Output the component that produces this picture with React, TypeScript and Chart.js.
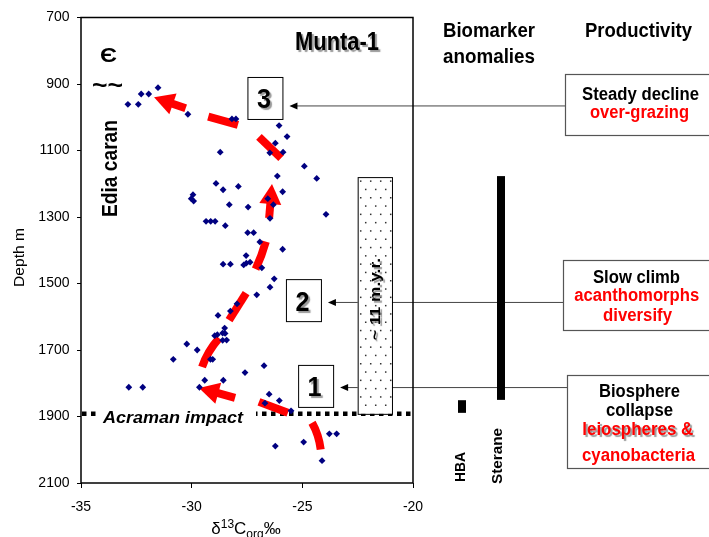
import React, { useEffect, useRef } from "react";
import { Chart, registerables } from "chart.js";

Chart.register(...registerables);

const FONT = '"Liberation Sans", Arial, Helvetica, sans-serif';
const RED = "#ff0000";
const NAVY = "#000080";

// ---- data ----
const delta13C = [
  -32.88, -32.41, -32.28, -31.94, -31.52, -30.17, -28.18, -28.0, -28.71, -26.05,
  -25.69, -26.22, -26.47, -25.87, -24.91, -26.13, -24.35, -28.9, -27.89, -28.58,
  -29.94, -30.02, -29.91, -25.89, -26.56, -26.31, -28.3, -27.45, -23.93, -26.46,
  -29.35, -29.14, -28.94, -28.48, -27.47, -27.2, -26.92, -25.89, -27.54, -28.58,
  -28.25, -27.65, -27.53, -27.36, -26.83, -26.27, -26.46, -27.06, -27.95, -28.25,
  -28.81, -28.51, -28.6, -28.49, -28.84, -28.96, -28.42, -28.6, -30.22, -29.75,
  -30.83, -29.15, -29.05, -27.59, -26.73, -29.41, -28.57, -32.84, -32.21, -29.65,
  -26.5, -26.69, -26.04, -25.51, -26.22, -24.94, -23.78, -23.45, -24.11,
];
const depthM = [
  961, 961, 930, 930, 911, 991, 1005, 1005, 1105, 1025,
  1058, 1078, 1107, 1105, 1147, 1177, 1184, 1199, 1208, 1218,
  1233, 1245, 1252, 1224, 1245, 1263, 1263, 1270, 1292, 1304,
  1313, 1313, 1313, 1326, 1347, 1347, 1375, 1397, 1416, 1442,
  1442, 1444, 1439, 1436, 1453, 1486, 1511, 1534, 1561, 1583,
  1596, 1634, 1649, 1650, 1654, 1657, 1670, 1671, 1682, 1700,
  1728, 1728, 1728, 1768, 1747, 1791, 1791, 1812, 1812, 1812,
  1833, 1860, 1852, 1883, 1989, 1977, 1952, 1952, 2033,
];
const xRange = [-35, -20];
const xStep = 5;
const depthRange = [700, 2100];
const depthStep = 200;

// annotation anchors (data coordinates: [δ13C, depth])
const impactDepth = 1892;
const stippleX = [-22.5, -20.95];
const stippleDepth = [1180, 1892];
const steraneDepth = [1177, 1850];
const hbaDepth = [1851, 1889];
const stageBoxes = [
  { label: "3", x: -26.69, d: 942, line: 966 },
  { label: "2", x: -24.95, d: 1550, line: 1557 },
  { label: "1", x: -24.4, d: 1808, line: 1813 },
];
const arrowCollapse = [
  [[-24.17, 1999], [-24.31, 1957], [-24.56, 1919]],
  [[-25.65, 1889], [-26.96, 1856]],
  [[-28.04, 1844], [-29.67, 1814]],
];
const arrowClimb = [
  [[-29.53, 1751], [-29.22, 1706], [-28.76, 1664]],
  [[-28.31, 1610], [-27.54, 1529]],
  [[-27.11, 1457], [-26.85, 1415], [-26.65, 1374]],
  [[-26.5, 1303], [-26.37, 1201]],
];
const arrowDecline = [
  [[-25.96, 1123], [-26.96, 1059]],
  [[-27.91, 1023], [-29.25, 998]],
  [[-30.27, 973], [-31.7, 940]],
];

type Ctx = CanvasRenderingContext2D;

function fitText(
  ctx: Ctx, s: string, x: number, y: number, font: string, color: string,
  opts: { width?: number; align?: CanvasTextAlign; rot?: number; shadow?: boolean; baseline?: CanvasTextBaseline } = {}
) {
  ctx.save();
  ctx.font = font;
  ctx.fillStyle = color;
  ctx.textAlign = opts.align || "center";
  ctx.textBaseline = opts.baseline || "alphabetic";
  ctx.translate(x, y);
  if (opts.rot) ctx.rotate(opts.rot);
  if (opts.width) {
    const w = ctx.measureText(s).width;
    if (w > 0) ctx.scale(opts.width / w, 1);
  }
  if (opts.shadow) {
    ctx.shadowColor = "rgba(120,120,120,0.75)";
    ctx.shadowOffsetX = 2;
    ctx.shadowOffsetY = 2;
    ctx.shadowBlur = 1;
  }
  ctx.fillText(s, 0, 0);
  ctx.restore();
}

function strokePath(ctx: Ctx, pts: number[][]) {
  ctx.beginPath();
  ctx.moveTo(pts[0][0], pts[0][1]);
  if (pts.length === 3) {
    const cx = 2 * pts[1][0] - (pts[0][0] + pts[2][0]) / 2;
    const cy = 2 * pts[1][1] - (pts[0][1] + pts[2][1]) / 2;
    ctx.quadraticCurveTo(cx, cy, pts[2][0], pts[2][1]);
  } else {
    for (let i = 1; i < pts.length; i++) ctx.lineTo(pts[i][0], pts[i][1]);
  }
  ctx.stroke();
}

function redArrow(ctx: Ctx, segs: number[][][], X: (v: number) => number, Y: (v: number) => number) {
  ctx.save();
  ctx.strokeStyle = RED;
  ctx.fillStyle = RED;
  ctx.lineWidth = 8;
  ctx.lineCap = "butt";
  segs.forEach((seg, i) => {
    const pts = seg.map(([a, b]) => [X(a), Y(b)]);
    if (i === segs.length - 1) {
      const [tx, ty] = pts[pts.length - 1];
      const [px, py] = pts[pts.length - 2];
      const dx = tx - px, dy = ty - py, L = Math.hypot(dx, dy);
      const ux = dx / L, uy = dy / L;
      const hl = 20, hw = 11;
      const bx = tx - ux * hl, by = ty - uy * hl;
      strokePath(ctx, [...pts.slice(0, -1), [bx + ux * 2, by + uy * 2]]);
      ctx.beginPath();
      ctx.moveTo(tx, ty);
      ctx.lineTo(bx - uy * hw, by + ux * hw);
      ctx.lineTo(bx + uy * hw, by - ux * hw);
      ctx.closePath();
      ctx.fill();
    } else {
      strokePath(ctx, pts);
    }
  });
  ctx.restore();
}

const annotate = {
  id: "annotate",
  beforeDatasetsDraw(chart: any) {
    const ctx: Ctx = chart.ctx;
    const ca = chart.chartArea;
    const X = (v: number) => chart.scales.x.getPixelForValue(v);
    const Y = (v: number) => chart.scales.y.getPixelForValue(v);
    ctx.save();

    // Acraman impact dotted line
    const iy = Y(impactDepth);
    ctx.strokeStyle = "#000";
    ctx.lineWidth = 4.5;
    ctx.setLineDash([4.5, 4.5]);
    ctx.beginPath();
    ctx.moveTo(ca.left + 1, iy);
    ctx.lineTo(ca.right, iy);
    ctx.stroke();
    ctx.setLineDash([]);
    ctx.fillStyle = "#fff";
    ctx.fillRect(97, iy - 12, 159, 22);
    fitText(ctx, "Acraman impact", 103, iy + 9, `italic bold 17px ${FONT}`, "#000", { align: "left", width: 140 });

    // connectors from the productivity boxes to the numbered stage boxes
    const boxRightEdges = [565, 563, 567];
    stageBoxes.forEach((b, i) => {
      const ly = Y(b.line);
      const tipX = X(b.x) + 17.5 + 7;
      ctx.strokeStyle = "#444";
      ctx.lineWidth = 1;
      ctx.beginPath();
      ctx.moveTo(boxRightEdges[i], ly);
      ctx.lineTo(tipX + 6, ly);
      ctx.stroke();
      ctx.fillStyle = "#000";
      ctx.beginPath();
      ctx.moveTo(tipX, ly);
      ctx.lineTo(tipX + 8, ly - 3.5);
      ctx.lineTo(tipX + 8, ly + 3.5);
      ctx.closePath();
      ctx.fill();
    });

    // stippled duration bar
    const sx0 = X(stippleX[0]), sx1 = X(stippleX[1]);
    const sy0 = Y(stippleDepth[0]), sy1 = Y(stippleDepth[1]);
    ctx.fillStyle = "#fff";
    ctx.fillRect(sx0, sy0, sx1 - sx0, sy1 - sy0);
    ctx.fillStyle = "#333";
    let row = 0;
    for (let yy = sy0 + 4; yy < sy1 - 2; yy += 8.3, row++) {
      for (let xx = sx0 + 3 + (row % 2 ? 5 : 0); xx < sx1 - 1; xx += 10) {
        ctx.fillRect(xx - 0.7, yy - 0.7, 1.5, 1.5);
      }
    }
    ctx.strokeStyle = "#000";
    ctx.lineWidth = 1;
    ctx.strokeRect(sx0 + 0.5, sy0 + 0.5, sx1 - sx0, sy1 - sy0);
    fitText(ctx, "~ 11 m.y.r.", (sx0 + sx1) / 2 + 5, 299, `bold 15px ${FONT}`, "#000", {
      rot: -Math.PI / 2, width: 82, shadow: true,
    });

    // numbered stage boxes
    stageBoxes.forEach((b) => {
      const cx = X(b.x), cy = Y(b.d);
      ctx.fillStyle = "#fff";
      ctx.fillRect(cx - 17.5, cy - 21, 35, 42);
      ctx.strokeStyle = "#000";
      ctx.lineWidth = 1;
      ctx.strokeRect(cx - 17.5 + 0.5, cy - 21 + 0.5, 35, 42);
      fitText(ctx, b.label, cx - 1, cy + 10.5, `bold 27px ${FONT}`, "#000", { shadow: true, width: 14 });
    });

    // red trend arrows
    redArrow(ctx, arrowCollapse, X, Y);
    redArrow(ctx, arrowClimb, X, Y);
    redArrow(ctx, arrowDecline, X, Y);

    // labels inside the plot
    fitText(ctx, "Munta-1", 337, 50, `bold 25px ${FONT}`, "#000", { width: 84, shadow: true });
    fitText(ctx, "Є", 108.5, 62, `bold 21px ${FONT}`, "#000", { width: 17 });
    fitText(ctx, "~~", 107.5, 86.5, `bold 24px ${FONT}`, "#000", { width: 31, baseline: "middle" });
    fitText(ctx, "Edia caran", 117, 168.5, `bold 22px ${FONT}`, "#000", { rot: -Math.PI / 2, width: 97 });

    // biomarker column
    fitText(ctx, "Biomarker", 489, 36.7, `bold 20px ${FONT}`, "#000", { width: 92 });
    fitText(ctx, "anomalies", 489, 63, `bold 20px ${FONT}`, "#000", { width: 92 });
    ctx.fillStyle = "#000";
    ctx.fillRect(497, Y(steraneDepth[0]), 8, Y(steraneDepth[1]) - Y(steraneDepth[0]));
    ctx.fillRect(458, Y(hbaDepth[0]), 8, Y(hbaDepth[1]) - Y(hbaDepth[0]));
    fitText(ctx, "HBA", 465, 467, `bold 14px ${FONT}`, "#000", { rot: -Math.PI / 2, width: 30 });
    fitText(ctx, "Sterane", 501.5, 456, `bold 14px ${FONT}`, "#000", { rot: -Math.PI / 2, width: 56 });

    // productivity column
    fitText(ctx, "Productivity", 638.5, 36.5, `bold 20px ${FONT}`, "#000", { width: 107 });
    ctx.strokeStyle = "#555";
    ctx.lineWidth = 1.2;
    ctx.strokeRect(565.5, 74.5, 160, 61);
    ctx.strokeRect(563.5, 260.5, 160, 70);
    ctx.strokeRect(567.5, 375.5, 160, 93);
    const B = `bold 18px ${FONT}`;
    fitText(ctx, "Steady decline", 640.5, 100, B, "#000", { width: 117 });
    fitText(ctx, "over-grazing", 639.5, 118, B, RED, { width: 99 });
    fitText(ctx, "Slow climb", 636.5, 283, B, "#000", { width: 87 });
    fitText(ctx, "acanthomorphs", 636.7, 301, B, RED, { width: 125 });
    fitText(ctx, "diversify", 637.5, 321, B, RED, { width: 69 });
    fitText(ctx, "Biosphere", 639.5, 396.7, B, "#000", { width: 81 });
    fitText(ctx, "collapse", 639.5, 415.7, B, "#000", { width: 67 });
    fitText(ctx, "leiospheres &", 637.8, 435, B, RED, { width: 111, shadow: true });
    fitText(ctx, "cyanobacteria", 638.5, 460.7, B, RED, { width: 113 });

    // axis titles
    fitText(ctx, "Depth m", 20, 257.5, `15px ${FONT}`, "#000", { rot: -Math.PI / 2, baseline: "middle", width: 59 });
    const parts = [
      { t: "δ", f: 17, dy: 0 },
      { t: "13", f: 12, dy: -6 },
      { t: "C", f: 17, dy: 0 },
      { t: "org", f: 12, dy: 4 },
      { t: "‰", f: 17, dy: 0 },
    ];
    let total = 0;
    const widths = parts.map((p) => {
      ctx.font = `${p.f}px ${FONT}`;
      const w = ctx.measureText(p.t).width;
      total += w;
      return w;
    });
    let px = 246 - total / 2;
    parts.forEach((p, i) => {
      fitText(ctx, p.t, px, 534 + p.dy, `${p.f}px ${FONT}`, "#000", { align: "left" });
      px += widths[i];
    });

    ctx.restore();
  },
  afterDraw(chart: any) {
    const ctx: Ctx = chart.ctx;
    const ca = chart.chartArea;
    ctx.save();
    ctx.strokeStyle = "#000";
    ctx.lineWidth = 1.5;
    ctx.strokeRect(ca.left, ca.top, ca.right - ca.left, ca.bottom - ca.top);
    ctx.restore();
  },
};

export default function App() {
  const ref = useRef<HTMLCanvasElement | null>(null);
  useEffect(() => {
    document.body.style.margin = "0";
    const canvas = ref.current;
    if (!canvas) return;
    const chart = new Chart(canvas, {
      type: "scatter",
      data: {
        datasets: [
          {
            data: delta13C.map((v, i) => ({ x: v, y: depthM[i] })),
            pointStyle: "rectRot",
            pointRadius: 3.4,
            backgroundColor: NAVY,
            borderColor: NAVY,
            borderWidth: 0,
          },
        ],
      },
      options: {
        animation: false,
        responsive: false,
        devicePixelRatio: 1,
        layout: { padding: { left: 0, top: 17.5, right: 296, bottom: 0 } },
        plugins: { legend: { display: false }, tooltip: { enabled: false } },
        scales: {
          x: {
            type: "linear",
            min: xRange[0],
            max: xRange[1],
            ticks: {
              stepSize: xStep, color: "#000", padding: 11, font: { family: FONT, size: 14 },
              callback: (v: any) => String(v),
            },
            grid: { drawOnChartArea: false, drawTicks: true, tickLength: 5, color: "#000" },
            border: { display: false },
            afterFit: (s: any) => { s.height = 54; },
          },
          y: {
            type: "linear",
            reverse: true,
            min: depthRange[0],
            max: depthRange[1],
            ticks: {
              stepSize: depthStep, color: "#000", padding: 7.5, font: { family: FONT, size: 14 },
              callback: (v: any) => String(v),
            },
            grid: { drawOnChartArea: false, drawTicks: true, tickLength: 4, color: "#000" },
            border: { display: false },
            afterFit: (s: any) => { s.width = 81; },
          },
        },
      },
      plugins: [annotate],
    } as any);
    return () => chart.destroy();
  }, []);
  return (
    <div style={{ width: 709, height: 537 }}>
      <canvas ref={ref} width={709} height={537} style={{ display: "block" }} />
    </div>
  );
}
